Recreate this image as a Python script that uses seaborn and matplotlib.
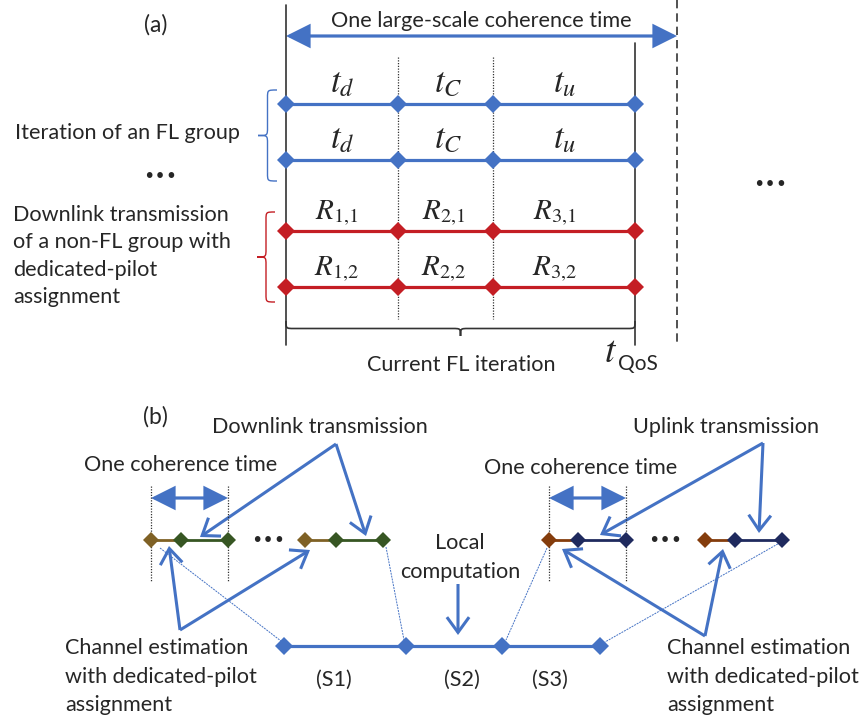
import numpy as np
import pandas as pd
import matplotlib
matplotlib.use("Agg")
import matplotlib.pyplot as plt
from matplotlib.path import Path
from matplotlib.patches import PathPatch, FancyArrowPatch
import seaborn as sns

# ---------------- data (diagram layout, pixel space) ----------------
# (a) period boundaries of the current FL iteration
period_bounds = [286, 398, 493, 635]
dashed_bound = 677
fl_rows = [104, 160]
nonfl_rows = [231, 287]
fl_labels = [r"$t_d$", r"$t_C$", r"$t_u$"]
fl_label_x = [342, 448, 565]
nonfl_labels = [[r"$R_{1{,}1}$", r"$R_{2{,}1}$", r"$R_{3{,}1}$"],
                [r"$R_{1{,}2}$", r"$R_{2{,}2}$", r"$R_{3{,}2}$"]]
nonfl_label_x = [337, 444, 555]

# (b) coherence-time groups
dl_groups = [[151, 181, 228], [305, 336, 383]]
ul_groups = [[549, 578, 626], [705, 735, 782]]
row_b = 540
stage_x = [284, 406, 502, 600]
stage_y = 646
stage_labels = ["(S1)", "(S2)", "(S3)"]
stage_label_x = [334, 462, 550]

BLUE = "#4472C4"
RED = "#C41E24"
OLIVE = "#7F6125"
GREEN = "#375623"
RUST = "#843C0C"
NAVY = "#1F2A5E"
TXT = "#262626"
AX = "#333333"

sns.set_theme(style="white")
plt.rcParams["font.family"] = ["Lato", "DejaVu Sans"]
plt.rcParams["mathtext.fontset"] = "stix"

fig = plt.figure(figsize=(8.65, 7.22), dpi=100)
ax = fig.add_axes([0, 0, 1, 1])
ax.set_xlim(0, 865)
ax.set_ylim(722, 0)
ax.axis("off")

FS = 15.6
TFS = 25
RFS = 21


def txt(x, y, s, ha="center", va="center", fs=FS, **kw):
    ax.text(x, y, s, ha=ha, va=va, fontsize=fs, color=TXT, **kw)


def row(xs, y, color, ms=9.2, lw=2.3):
    df = pd.DataFrame({"x": xs, "y": [y] * len(xs)})
    sns.lineplot(data=df, x="x", y="y", ax=ax, color=color, lw=lw,
                 marker="D", markersize=ms, markeredgewidth=0, sort=False,
                 estimator=None, legend=False)


def arrow(p0, p1, style, color=BLUE, lw=2.2, ms=20):
    a = FancyArrowPatch(p0, p1, arrowstyle=style, color=color, lw=lw,
                        mutation_scale=ms, shrinkA=0, shrinkB=0,
                        joinstyle="miter", capstyle="butt")
    ax.add_patch(a)


def vbrace(x, y0, y1, w, color, lw=1.0):
    xm = x - w / 2
    ym = (y0 + y1) / 2
    r = 8
    verts = [(x, y0), (xm, y0), (xm, y0), (xm, y0 + r),
             (xm, ym - r),
             (xm, ym), (xm, ym), (x - w, ym),
             (xm, ym), (xm, ym), (xm, ym + r),
             (xm, y1 - r),
             (xm, y1), (xm, y1), (x, y1)]
    codes = [Path.MOVETO, Path.CURVE4, Path.CURVE4, Path.CURVE4,
             Path.LINETO,
             Path.CURVE4, Path.CURVE4, Path.CURVE4,
             Path.CURVE4, Path.CURVE4, Path.CURVE4,
             Path.LINETO,
             Path.CURVE4, Path.CURVE4, Path.CURVE4]
    ax.add_patch(PathPatch(Path(verts, codes), fc="none", ec=color, lw=lw))


def hbrace(x0, x1, y, h, color, lw=1.2):
    ym = y + h / 2
    xm = (x0 + x1) / 2
    r = 8
    verts = [(x0, y), (x0, ym), (x0, ym), (x0 + r, ym),
             (xm - r, ym),
             (xm, ym), (xm, ym), (xm, y + h),
             (xm, ym), (xm, ym), (xm + r, ym),
             (x1 - r, ym),
             (x1, ym), (x1, ym), (x1, y)]
    codes = [Path.MOVETO, Path.CURVE4, Path.CURVE4, Path.CURVE4,
             Path.LINETO,
             Path.CURVE4, Path.CURVE4, Path.CURVE4,
             Path.CURVE4, Path.CURVE4, Path.CURVE4,
             Path.LINETO,
             Path.CURVE4, Path.CURVE4, Path.CURVE4]
    ax.add_patch(PathPatch(Path(verts, codes), fc="none", ec=color, lw=lw))


# ================= (a) =================
txt(156, 25, "(a)", fs=16.5)
ax.plot([period_bounds[0]] * 2, [5, 345], color=AX, lw=1.2)
ax.plot([period_bounds[-1]] * 2, [43, 345], color=AX, lw=1.2)
ax.plot([dashed_bound] * 2, [0, 342], color=AX, lw=1.2, ls=(0, (5, 3)))
for xd in period_bounds[1:3]:
    ax.plot([xd, xd], [57, 319], color=AX, lw=0.9, ls=(0, (1, 1.2)))

arrow((period_bounds[0], 36), (dashed_bound, 36),
      "<|-|>,head_length=0.7,head_width=0.35", lw=2.3)
txt(481, 21, "One large-scale coherence time")

for y in fl_rows:
    row(period_bounds, y, BLUE)
for i, y in enumerate(fl_rows):
    for lx, lab in zip(fl_label_x, fl_labels):
        ax.text(lx, y - 21, lab, ha="center", va="center", fontsize=TFS, color=TXT)
for y in nonfl_rows:
    row(period_bounds, y, RED)
for i, y in enumerate(nonfl_rows):
    for lx, lab in zip(nonfl_label_x, nonfl_labels[i]):
        ax.text(lx, y - 18, lab, ha="center", va="center", fontsize=RFS, color=TXT)

vbrace(277, 90, 181, 19, BLUE)
vbrace(275, 212, 302, 18, RED)
hbrace(period_bounds[0], period_bounds[-1], 321, 15, AX)

txt(15, 133, "Iteration of an FL group", ha="left")
txt(160, 176, "•••", fs=14, family="DejaVu Sans")
txt(770, 184, "•••", fs=14, family="DejaVu Sans")
for yy, s in zip([215, 242, 270, 297],
                 ["Downlink transmission", "of a non-FL group with",
                  "dedicated-pilot", "assignment"]):
    txt(13, yy, s, ha="left")
txt(461, 365, "Current FL iteration")
ax.text(611, 351, r"$t$", ha="center", va="center", fontsize=TFS + 2, color=TXT)
txt(618, 364, "QoS", ha="left", fs=15)

# ================= (b) =================
txt(155, 417, "(b)", fs=16.5)
txt(320, 427, "Downlink transmission")
txt(181, 465, "One coherence time")
txt(726, 427, "Uplink transmission")
txt(581, 468, "One coherence time")

for g_first in (dl_groups[0], ul_groups[0]):
    for xd in (g_first[0], g_first[2]):
        ax.plot([xd, xd], [486, 582], color=AX, lw=0.9, ls=(0, (1, 1.2)))
    arrow((g_first[0], 498), (g_first[2], 498),
          "<|-|>,head_length=0.7,head_width=0.35", lw=2.3)

for groups, (c1, c2) in [(dl_groups, (OLIVE, GREEN)), (ul_groups, (RUST, NAVY))]:
    for g in groups:
        ax.plot(g[:2], [row_b] * 2, color=c1, lw=2.0, zorder=2)
        ax.plot(g[1:], [row_b] * 2, color=c2, lw=2.0, zorder=2)
        ax.plot([g[0]], [row_b], marker="D", ms=8.6, color=c1, mew=0, zorder=3)
        ax.plot(g[1:], [row_b] * 2, marker="D", ms=8.6, color=c2, mew=0, lw=0, zorder=3)
txt(268, 541, "•••", fs=14, family="DejaVu Sans")
txt(665, 541, "•••", fs=14, family="DejaVu Sans")

# thin connectors from timeline to sub-steps
thin = dict(color=BLUE, lw=0.7, ls=(0, (2, 1)))
ax.plot([160, 281], [548, 641], **thin)
ax.plot([386, 404], [547, 640], **thin)
ax.plot([547, 506], [548, 640], **thin)
ax.plot([783, 605], [541, 642], **thin)

row(stage_x, stage_y, BLUE, ms=8.8, lw=2.3)
for lx, s in zip(stage_label_x, stage_labels):
    txt(lx, 680, s)

txt(460, 543, "Local")
txt(460, 572, "computation")

ptr = "->,head_length=0.55,head_width=0.4"
arrow((458, 584), (458, 635), ptr, lw=2.2)
# downlink pointers
arrow((336, 444), (200, 537), ptr, lw=2.2)
arrow((336, 444), (366, 536), ptr, lw=2.2)
# uplink pointers
arrow((763, 443), (600, 535), ptr, lw=2.2)
arrow((763, 443), (759, 533), ptr, lw=2.2)
# channel estimation pointers
arrow((180, 630), (169, 546), ptr, lw=2.2)
arrow((180, 630), (310, 550), ptr, lw=2.2)
arrow((705, 636), (562, 549), ptr, lw=2.2)
arrow((705, 636), (723, 549), ptr, lw=2.2)

for x0 in (65, 667):
    for yy, s in zip([648, 677, 705],
                     ["Channel estimation", "with dedicated-pilot", "assignment"]):
        txt(x0, yy, s, ha="left")

fig.savefig("out.png", dpi=100)
